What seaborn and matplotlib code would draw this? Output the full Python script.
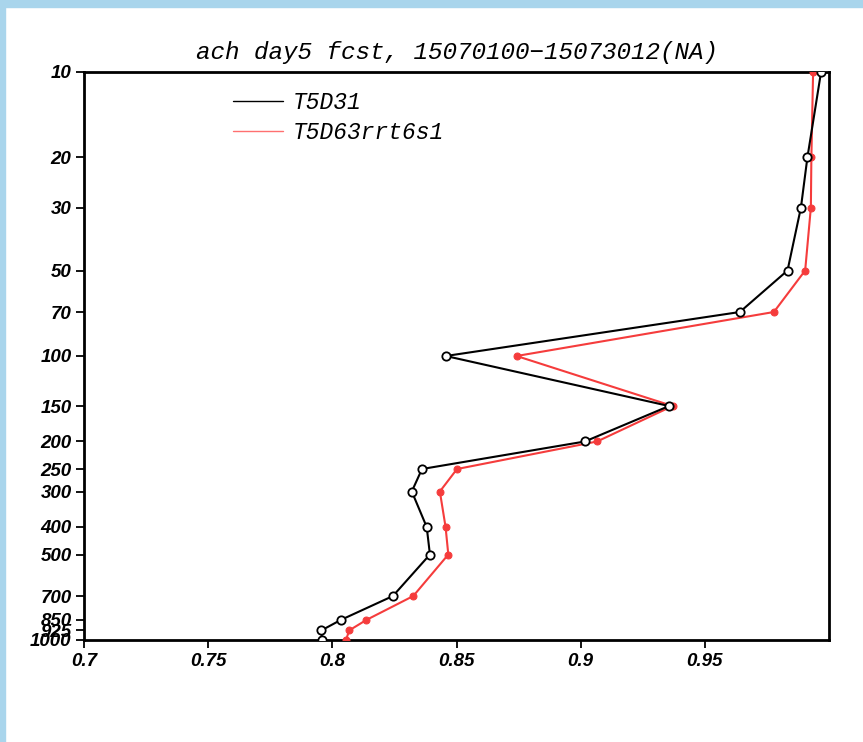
import matplotlib
matplotlib.use("Agg")
import matplotlib.pyplot as plt
import seaborn as sns
import pandas as pd
from matplotlib.patches import Rectangle
from matplotlib.lines import Line2D

levels = [10, 20, 30, 50, 70, 100, 150, 200, 250, 300, 400, 500, 700, 850, 925, 1000]
t5d31 = [0.9968, 0.9913, 0.9887, 0.9833, 0.9641, 0.8457, 0.9356, 0.9017,
         0.8361, 0.8320, 0.8380, 0.8393, 0.8244, 0.8034, 0.7956, 0.7958]
t5d63 = [0.9936, 0.9929, 0.9927, 0.9904, 0.9778, 0.8742, 0.9370, 0.9066,
         0.8502, 0.8433, 0.8456, 0.8467, 0.8326, 0.8137, 0.8068, 0.8055]
series_names = ["T5D31", "T5D63rrt6s1"]
title = "ach day5 fcst, 15070100\u221215073012(NA)"
xticks = [0.7, 0.75, 0.8, 0.85, 0.9, 0.95]
xticklabels = ["0.7", "0.75", "0.8", "0.85", "0.9", "0.95"]

sns.set_theme(style="white")
plt.rcParams['font.family'] = ['DejaVu Sans']
plt.rcParams['text.color'] = 'black'

fig = plt.figure(figsize=(8.63, 7.42), dpi=100)
fig.patch.set_facecolor("white")
# screenshot border strips
fig.add_artist(Rectangle((0, 0), 5 / 863, 1, transform=fig.transFigure,
                         color="#a9d5ec", zorder=0))
fig.add_artist(Rectangle((0, 1 - 7 / 742), 1, 7 / 742, transform=fig.transFigure,
                         color="#a9d5ec", zorder=0))

ax = fig.add_axes([84 / 863, 1 - 640 / 742, (829 - 84) / 863, (640 - 72) / 742])

df1 = pd.DataFrame({"x": t5d31, "p": levels})
df2 = pd.DataFrame({"x": t5d63, "p": levels})

sns.lineplot(data=df2, x="x", y="p", sort=False, estimator=None, ax=ax,
             color="#f53c3c", linewidth=1.5, marker="o", markersize=5,
             markerfacecolor="#f53c3c", markeredgecolor="#f53c3c", zorder=3)
sns.lineplot(data=df1, x="x", y="p", sort=False, estimator=None, ax=ax,
             color="black", linewidth=1.5, marker="o", markersize=6,
             markerfacecolor="white", markeredgecolor="black",
             markeredgewidth=1.3, zorder=4)

ax.set_yscale("log")
ax.set_ylim(1000, 10)
ax.set_xlim(0.7, 1.0)
ax.set_yticks(levels)
ax.set_yticklabels([str(l) for l in levels])
ax.minorticks_off()
ax.set_xticks(xticks)
ax.set_xticklabels(xticklabels)
ax.set_xlabel("")
ax.set_ylabel("")

for lab in ax.get_xticklabels() + ax.get_yticklabels():
    lab.set_fontfamily("Liberation Sans")
    lab.set_fontweight("bold")
    lab.set_fontstyle("italic")
    lab.set_fontsize(13.5)
    lab.set_color("black")

ax.tick_params(axis="both", direction="out", length=6, width=1.3, color="black",
               left=True, bottom=True, top=False, right=False, pad=3,
               labelcolor="black")
for sp in ax.spines.values():
    sp.set_linewidth(2)
    sp.set_color("black")

ax.set_title(title, family="Liberation Mono", style="italic", fontsize=17.5,
             pad=9, color="black")

# legend
leg_font = dict(family="Liberation Mono", style="italic", size=16.5)
handles = [Line2D([], [], color="black", linewidth=1.0),
           Line2D([], [], color="#ff7070", linewidth=1.0)]
ax.legend(handles, series_names, loc="upper left",
          bbox_to_anchor=((224 - 84) / 745, 1 - (82 - 72) / 568),
          frameon=False, prop=leg_font, handlelength=2.18, handletextpad=0.4,
          labelspacing=0.3, borderaxespad=0, labelcolor="black")

fig.savefig("out.png", dpi=100, facecolor=fig.get_facecolor())
